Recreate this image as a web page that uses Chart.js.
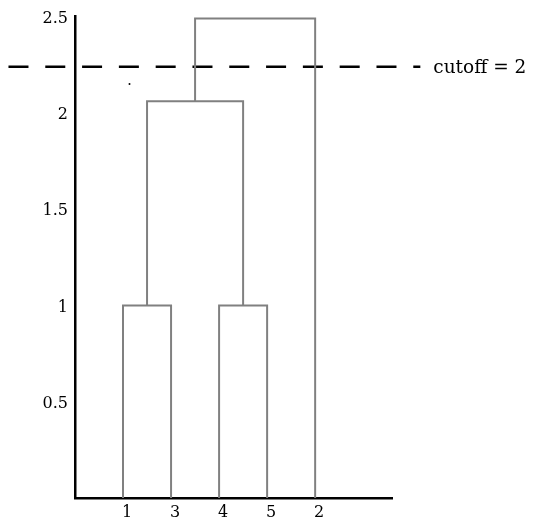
<!DOCTYPE html>
<html>
<head>
<meta charset="utf-8">
<script src="https://cdn.jsdelivr.net/npm/chart.js@4/dist/chart.umd.min.js"></script>
<style>
  html, body { margin: 0; padding: 0; background: #ffffff; }
  #wrap { width: 534px; height: 523px; }
</style>
</head>
<body>
<div id="wrap"><canvas id="dendro" width="534" height="523"></canvas></div>
<script>
// leaf order along the x axis (positions 1..5)
const leafLabels = ['1', '3', '4', '5', '2'];

// each merge: left child x / height, right child x / height, merge height
const linkLeftX = [1, 3, 1.5, 2.5];
const linkLeftY = [0, 0, 1, 2.06];
const linkRightX = [2, 4, 3.5, 5];
const linkRightY = [0, 0, 1, 0];
const linkHeight = [1, 1, 2.06, 2.49];

// cutoff line (drawn height) and its extent in x units
const cutoffValue = 2.24;
const cutoffX = [-1.385, 7.19];
const cutoffText = 'cutoff = 2';

// stray dot in the figure
const dotPoint = [{ x: 1.135, y: 2.15 }];

const yTicks = [0.5, 1, 1.5, 2, 2.5];

const treeColor = '#808080';
const serif = "'DejaVu Serif', serif";

const datasets = linkHeight.map(function(h, i) {
    return {
        data: [
            { x: linkLeftX[i], y: linkLeftY[i] },
            { x: linkLeftX[i], y: h },
            { x: linkRightX[i], y: h },
            { x: linkRightX[i], y: linkRightY[i] }
        ],
        showLine: true,
        borderColor: treeColor,
        borderWidth: 2,
        pointRadius: 0,
        fill: false,
        tension: 0
    };
});

datasets.push({
    data: [
        { x: cutoffX[0], y: cutoffValue },
        { x: cutoffX[1], y: cutoffValue }
    ],
    showLine: true,
    borderColor: '#000000',
    borderWidth: 2.5,
    borderDash: [20, 16.8],
    pointRadius: 0,
    fill: false,
    clip: false
});

datasets.push({
    data: dotPoint,
    showLine: false,
    pointRadius: 1,
    pointBackgroundColor: '#000000',
    pointBorderWidth: 0
});

const cutoffLabel = {
    id: 'cutoffLabel',
    afterDraw: function(chart) {
        const ctx = chart.ctx;
        const xs = chart.scales.x, ys = chart.scales.y;
        ctx.save();
        ctx.fillStyle = '#000000';
        ctx.font = "18.5px " + serif;
        ctx.textAlign = 'left';
        ctx.textBaseline = 'alphabetic';
        ctx.fillText(cutoffText, xs.getPixelForValue(cutoffX[1]) + 13, ys.getPixelForValue(cutoffValue) + 6);
        ctx.restore();
    }
};

new Chart(document.getElementById('dendro'), {
    type: 'scatter',
    data: { datasets: datasets },
    plugins: [cutoffLabel],
    options: {
        responsive: false,
        animation: false,
        layout: { padding: { top: 15, right: 142, left: 0, bottom: 0 } },
        plugins: { legend: { display: false }, tooltip: { enabled: false } },
        scales: {
            x: {
                type: 'linear',
                min: 0,
                max: 6.6,
                grid: { display: false, drawTicks: false },
                border: { display: true, color: '#000000', width: 2.5 },
                afterFit: function(s) { s.height = 25; },
                afterBuildTicks: function(s) {
                    s.ticks = leafLabels.map(function(l, i) { return { value: i + 1 }; });
                },
                ticks: {
                    color: '#000000',
                    font: { family: serif, size: 16 },
                    padding: 5,
                    labelOffset: 4,
                    maxRotation: 0,
                    autoSkip: false,
                    callback: function(v) { return leafLabels[v - 1]; }
                }
            },
            y: {
                type: 'linear',
                min: 0,
                max: 2.5,
                grid: { display: false, drawTicks: false },
                border: { display: true, color: '#000000', width: 2.5 },
                afterFit: function(s) { s.width = 75; },
                afterBuildTicks: function(s) {
                    s.ticks = yTicks.map(function(v) { return { value: v }; });
                },
                ticks: {
                    color: '#000000',
                    font: { family: serif, size: 16 },
                    padding: 7,
                    labelOffset: 2,
                    callback: function(v) { return String(v); }
                }
            }
        }
    }
});
</script>
</body>
</html>
